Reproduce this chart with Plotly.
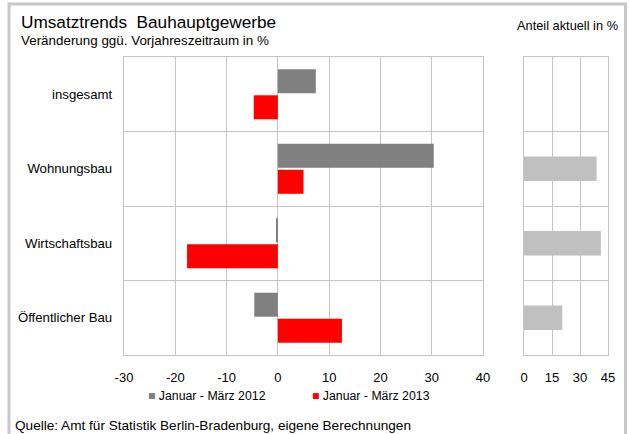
import plotly.graph_objects as go

W, H = 629, 434

categories = ["insgesamt", "Wohnungsbau", "Wirtschaftsbau", "Öffentlicher Bau"]
series_2012 = [7.4, 30.4, -0.3, -4.6]
series_2013 = [-4.7, 5.0, -17.7, 12.5]
anteil = [None, 38.9, 41.2, 20.5]
x_ticks_main = [-30, -20, -10, 0, 10, 20, 30, 40]
x_ticks_right = [0, 15, 30, 45]
label_2012 = "Januar - März 2012"
label_2013 = "Januar - März 2013"

FONT = "Liberation Sans, Arial, sans-serif"
GRID = "#c4c4c4"

def px(x):
    return x / W

def py(y):
    return 1 - y / H

fig = go.Figure()
fig.add_trace(go.Bar(y=categories, x=series_2012, orientation="h", name=label_2012,
                     marker=dict(color="#808080", line=dict(width=0)),
                     xaxis="x", yaxis="y"))
fig.add_trace(go.Bar(y=categories, x=series_2013, orientation="h", name=label_2013,
                     marker=dict(color="#ff0000", line=dict(width=0)),
                     xaxis="x", yaxis="y"))
fig.add_trace(go.Bar(y=categories, x=anteil, orientation="h", name="Anteil",
                     marker=dict(color="#c0c0c0", line=dict(width=0)),
                     width=0.33, offset=-0.165,
                     xaxis="x2", yaxis="y2"))

ydom = [py(355), py(57)]
axis_common = dict(showgrid=True, gridcolor=GRID, gridwidth=1.3,
                   showline=True, linecolor=GRID, linewidth=1.3, mirror=True,
                   ticks="", fixedrange=True, automargin=False)

fig.update_layout(
    template="none",
    width=W, height=H,
    margin=dict(l=0, r=0, t=0, b=0, autoexpand=False),
    paper_bgcolor="white", plot_bgcolor="white",
    barmode="group", bargap=0.30, bargroupgap=0.08,
    showlegend=False,
    font=dict(family=FONT, color="#000000", size=12.5),
    xaxis=dict(domain=[px(124), px(483)], range=[-30, 40], tickvals=x_ticks_main,
               ticktext=[str(v) for v in x_ticks_main],
               zeroline=True, zerolinecolor=GRID, zerolinewidth=1.3,
               tickfont=dict(size=13), ticklabelstandoff=10, anchor="y", **axis_common),
    yaxis=dict(domain=ydom, categoryorder="array", categoryarray=categories,
               range=[3.5, -0.5], tickson="boundaries", zeroline=False,
               tickfont=dict(size=13.2), ticklabelstandoff=8, anchor="x", **axis_common),
    xaxis2=dict(domain=[px(524), px(608)], range=[0, 45], tickvals=x_ticks_right,
                ticktext=[str(v) for v in x_ticks_right],
                zeroline=False, tickfont=dict(size=13), ticklabelstandoff=10,
                anchor="y2", **axis_common),
    yaxis2=dict(domain=ydom, categoryorder="array", categoryarray=categories,
                range=[3.5, -0.5], tickson="boundaries", showticklabels=False,
                zeroline=False, anchor="x2", **axis_common),
)

annotations = [
    dict(text="Umsatztrends\u00a0 Bauhauptgewerbe", x=px(19), y=py(22), xanchor="left",
         yanchor="middle", font=dict(size=17.2)),
    dict(text="Veränderung ggü. Vorjahreszeitraum in %", x=px(19), y=py(40), xanchor="left",
         yanchor="middle", font=dict(size=13.4)),
    dict(text="Anteil aktuell in %", x=px(620), y=py(25), xanchor="right",
         yanchor="middle", font=dict(size=12.8)),
    dict(text="<span style='color:#808080'>■</span> " + label_2012, x=px(146), y=py(396),
         xanchor="left", yanchor="middle", font=dict(size=12.3)),
    dict(text="<span style='color:#ff0000'>■</span> " + label_2013, x=px(310), y=py(396),
         xanchor="left", yanchor="middle", font=dict(size=12.3)),
    dict(text="Quelle: Amt für Statistik Berlin-Bradenburg, eigene Berechnungen", x=px(13),
         y=py(425), xanchor="left", yanchor="middle", font=dict(size=13.6)),
]
for a in annotations:
    a.update(xref="paper", yref="paper", showarrow=False)
fig.update_layout(annotations=annotations)

fig.update_layout(shapes=[
    dict(type="rect", xref="paper", yref="paper", x0=px(9), x1=px(625.5), y0=-0.1, y1=py(4),
         line=dict(color="#c8c8c8", width=3), fillcolor="rgba(0,0,0,0)", layer="below"),
])

fig.write_html("out.html", config={"displayModeBar": False},
               post_script="document.body.style.margin='0';document.body.style.overflow='hidden';")
